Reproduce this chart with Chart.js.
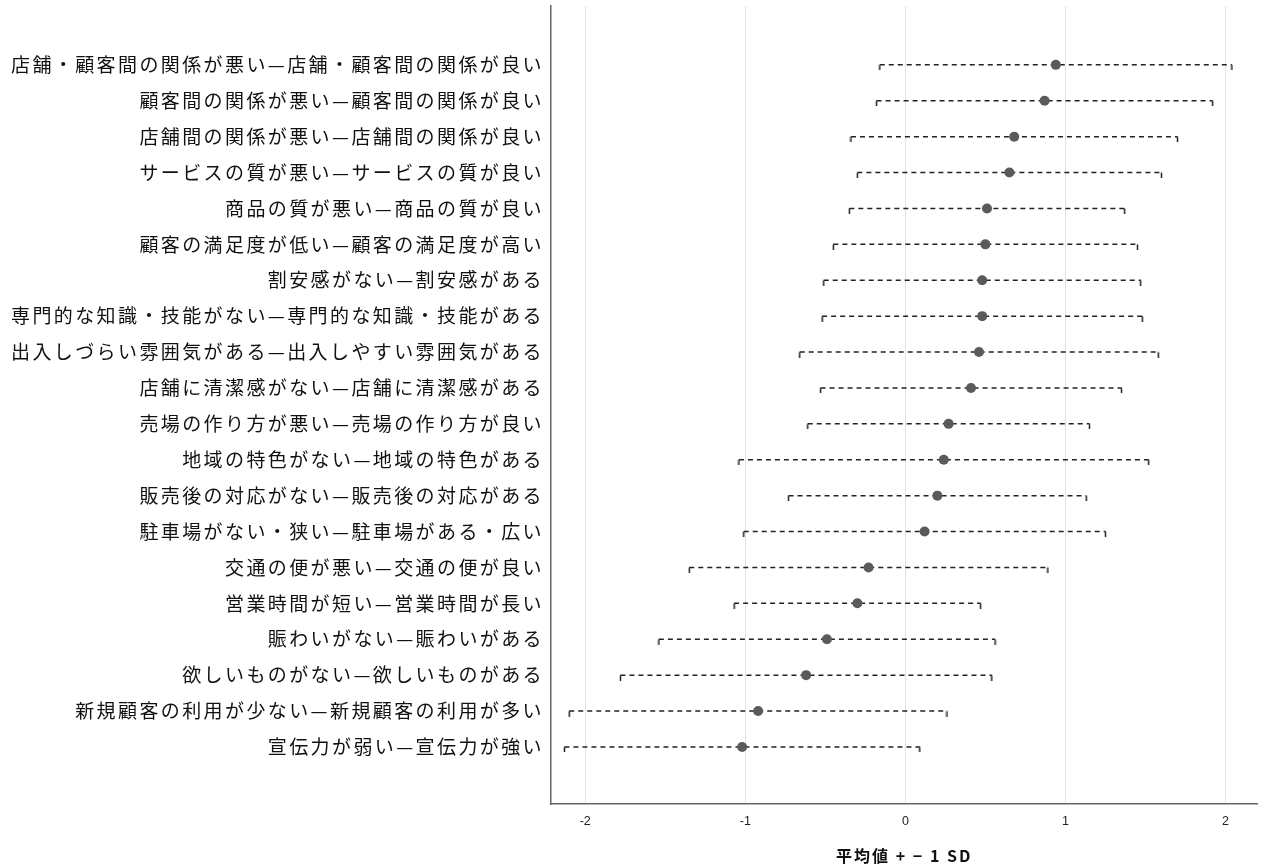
<!DOCTYPE html>
<html>
<head>
<meta charset="utf-8">
<script src="https://cdn.jsdelivr.net/npm/chart.js@4"></script>
<style>
  body { margin: 0; background: #fff; }
  #wrap { width: 1263px; height: 868px; }
</style>
</head>
<body>
<div id="wrap"><canvas id="myChart"></canvas></div>
<script>
const labels = [
    '店舗・顧客間の関係が悪い—店舗・顧客間の関係が良い',
    '顧客間の関係が悪い—顧客間の関係が良い',
    '店舗間の関係が悪い—店舗間の関係が良い',
    'サービスの質が悪い—サービスの質が良い',
    '商品の質が悪い—商品の質が良い',
    '顧客の満足度が低い—顧客の満足度が高い',
    '割安感がない—割安感がある',
    '専門的な知識・技能がない—専門的な知識・技能がある',
    '出入しづらい雰囲気がある—出入しやすい雰囲気がある',
    '店舗に清潔感がない—店舗に清潔感がある',
    '売場の作り方が悪い—売場の作り方が良い',
    '地域の特色がない—地域の特色がある',
    '販売後の対応がない—販売後の対応がある',
    '駐車場がない・狭い—駐車場がある・広い',
    '交通の便が悪い—交通の便が良い',
    '営業時間が短い—営業時間が長い',
    '賑わいがない—賑わいがある',
    '欲しいものがない—欲しいものがある',
    '新規顧客の利用が少ない—新規顧客の利用が多い',
    '宣伝力が弱い—宣伝力が強い'
];

// mean and standard deviation per item
const means = [0.94, 0.87, 0.68, 0.65, 0.51, 0.50, 0.48, 0.48, 0.46, 0.41,
               0.27, 0.24, 0.20, 0.12, -0.23, -0.30, -0.49, -0.62, -0.92, -1.02];
const sds = [1.10, 1.05, 1.02, 0.95, 0.86, 0.95, 0.99, 1.00, 1.12, 0.94,
             0.88, 1.28, 0.93, 1.13, 1.12, 0.77, 1.05, 1.16, 1.18, 1.11];

const xTicks = [-2, -1, 0, 1, 2];
const xTitle = '平均値 + − 1 SD';

// points for the chart
const meanPoints = means.map((m, i) => ({x: m, y: i}));
const sdPoints = [];
means.forEach((m, i) => {
    sdPoints.push({x: m - sds[i], y: i});
    sdPoints.push({x: m + sds[i], y: i});
    sdPoints.push({x: null, y: null});
});

// small cap that hangs down from the end of each sd line
const cap = document.createElement('canvas');
cap.width = 3;
cap.height = 11;
const cctx = cap.getContext('2d');
cctx.strokeStyle = '#222';
cctx.lineWidth = 1.5;
cctx.beginPath();
cctx.moveTo(1.5, 5.5);
cctx.lineTo(1.5, 11);
cctx.stroke();

// the labels in the original have some letter spacing
const spacedText = {
    id: 'spacedText',
    afterUpdate(chart) {
        const ys = chart.scales.y;
        const xs = chart.scales.x;
        if (!ys._spaced) {
            const orig = ys.drawLabels;
            ys.drawLabels = function (area) {
                this.ctx.save();
                this.ctx.letterSpacing = '2.4px';
                orig.call(this, area);
                this.ctx.restore();
            };
            ys._spaced = true;
        }
        if (!xs._spaced) {
            const origT = xs.drawTitle;
            xs.drawTitle = function () {
                this.ctx.save();
                this.ctx.letterSpacing = '2px';
                origT.call(this);
                this.ctx.restore();
            };
            xs._spaced = true;
        }
    }
};

Chart.defaults.font.family = "'Noto Sans CJK JP', 'Noto Sans', sans-serif";

const ctx = document.getElementById('myChart');

new Chart(ctx, {
    type: 'scatter',
    data: {
        datasets: [{
            label: 'mean',
            data: meanPoints,
            pointRadius: 5,
            pointBackgroundColor: '#5a5a5a',
            pointBorderColor: '#5a5a5a',
            pointBorderWidth: 0
        }, {
            label: 'sd',
            data: sdPoints,
            showLine: true,
            spanGaps: false,
            borderColor: '#222',
            borderWidth: 1.5,
            borderDash: [5, 4],
            pointStyle: cap,
            pointRadius: 2
        }]
    },
    plugins: [spacedText],
    options: {
        responsive: true,
        maintainAspectRatio: false,
        animation: false,
        layout: {
            padding: {top: 6, right: 0, bottom: 0, left: 0}
        },
        plugins: {
            legend: {display: false},
            tooltip: {enabled: false}
        },
        scales: {
            x: {
                type: 'linear',
                min: -2.214,
                max: 2.2,
                afterBuildTicks: (scale) => {
                    scale.ticks = xTicks.map(v => ({value: v}));
                },
                afterFit: (scale) => {
                    scale.height = 64;
                },
                grid: {
                    color: '#e2e2e2',
                    lineWidth: 1,
                    drawTicks: false
                },
                border: {
                    display: true,
                    color: '#666',
                    width: 1.5
                },
                ticks: {
                    padding: 10,
                    color: '#222',
                    font: {family: "'Liberation Sans', Arial, sans-serif", size: 12.5}
                },
                title: {
                    display: true,
                    text: xTitle,
                    color: '#111',
                    padding: {top: 0, bottom: 2},
                    font: {size: 16, weight: 'bold'}
                }
            },
            y: {
                type: 'linear',
                reverse: true,
                min: -1.64,
                max: 20.59,
                afterBuildTicks: (scale) => {
                    scale.ticks = labels.map((_, i) => ({value: i}));
                },
                afterFit: (scale) => {
                    scale.width = 551;
                    scale.paddingTop = 0;
                    scale.paddingBottom = 0;
                },
                grid: {display: false, drawTicks: false},
                border: {
                    display: true,
                    color: '#666',
                    width: 1.5
                },
                ticks: {
                    autoSkip: false,
                    padding: 7,
                    color: '#111',
                    font: {size: 19},
                    callback: (v) => labels[v]
                }
            }
        }
    }
});
</script>
</body>
</html>
